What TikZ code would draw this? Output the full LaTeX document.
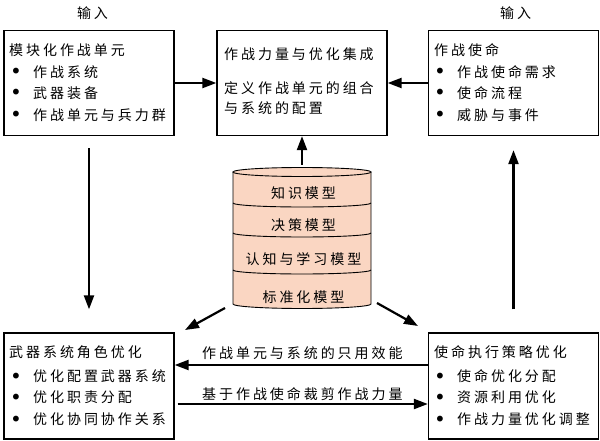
\documentclass[tikz,border=0pt]{standalone}
\usepackage{fontspec}
\usetikzlibrary{arrows.meta}
\newfontfamily\cjk[LetterSpace=21]{Noto Sans CJK SC}
\newfontfamily\dejavu{DejaVu Sans}
\definecolor{peach}{RGB}{250,214,194}
\newcommand{\bul}{\makebox[23pt][l]{\raisebox{-1.5pt}{\dejavu\fontsize{20}{20}\selectfont •}}}
\begin{document}
\begin{tikzpicture}[x=1pt,y=-1pt,
  box/.style={draw=black, line width=1.3pt, inner sep=0pt, minimum width=170pt, minimum height=105pt},
  txt/.style={anchor=base west, inner sep=0pt, font=\cjk\fontsize{14}{14}\selectfont},
  ctxt/.style={anchor=base, inner sep=0pt, xshift=1.5pt, font=\cjk\fontsize{14}{14}\selectfont},
  arr/.style={line width=2.2pt, -{Triangle[length=14pt,width=10pt]}},
  band/.style={draw=black, line width=0.9pt},
]
\useasboundingbox (0,0) rectangle (600,441);

% boxes
\node[box] (tl) at (89,83) {};
\node[box] (tc) at (302,83) {};
\node[box] (tr) at (513.5,83) {};
\node[box, minimum height=106pt] (bl) at (89,386) {};
\node[box, minimum height=106pt] (br) at (513.5,386) {};

% input labels
\node[ctxt] (in1) at (91,18.5) {输\hspace{3pt}入};
\node[ctxt] (in2) at (514,18.5) {输\hspace{3pt}入};

% top-left text
\node[txt] (tl0) at (9,55.5) {模块化作战单元};
\node[txt] (tl1) at (10,77.5) {\bul 作战系统};
\node[txt] (tl2) at (10,98.5) {\bul 武器装备};
\node[txt] (tl3) at (10,120.5) {\bul 作战单元与兵力群};

% top-center text
\node[txt] (tc0) at (224,59.5) {作战力量与优化集成};
\node[txt] (tc1) at (224,93.5) {定义作战单元的组合};
\node[txt] (tc2) at (224,113.5) {与系统的配置};

% top-right text
\node[txt] (tr0) at (434,55.5) {作战使命};
\node[txt] (tr1) at (434,77.5) {\bul 作战使命需求};
\node[txt] (tr2) at (434,98.5) {\bul 使命流程};
\node[txt] (tr3) at (434,120.5) {\bul 威胁与事件};

% bottom-left text
\node[txt] (bl0) at (9,357.5) {武器系统角色优化};
\node[txt] (bl1) at (10,381.5) {\bul 优化配置武器系统};
\node[txt] (bl2) at (10,402.5) {\bul 优化职责分配};
\node[txt] (bl3) at (10,424.5) {\bul 优化协同协作关系};

% bottom-right text
\node[txt] (br0) at (434,357.5) {使命执行策略优化};
\node[txt] (br1) at (434,381.5) {\bul 使命优化分配};
\node[txt] (br2) at (434,402.5) {\bul 资源利用优化};
\node[txt] (br3) at (434,424.5) {\bul 作战力量优化调整};

% cylinder
\fill[peach] (233,172) -- (233,304) arc[start angle=180,end angle=360,x radius=69pt,y radius=4.5pt] -- (371,172) arc[start angle=0,end angle=180,x radius=69pt,y radius=4.5pt] -- cycle;
\draw[band] (233,172) -- (233,304) arc[start angle=180,end angle=360,x radius=69pt,y radius=4.5pt] -- (371,172);
\draw[band] (302,172) ellipse[x radius=69pt,y radius=4.5pt];
\draw[band] (233,203) arc[start angle=180,end angle=360,x radius=69pt,y radius=4pt];
\draw[band] (233,233) arc[start angle=180,end angle=360,x radius=69pt,y radius=4pt];
\draw[band] (233,270) arc[start angle=180,end angle=360,x radius=69pt,y radius=4pt];
\node[ctxt] (m1) at (302,198.5) {知识模型};
\node[ctxt] (m2) at (302,230.5) {决策模型};
\node[ctxt] (m3) at (302,264) {认知与学习模型};
\node[ctxt] (m4) at (302,302.5) {标准化模型};
\coordinate (cyltop) at (302,165);
\coordinate (d1s) at (225,308);
\coordinate (d1e) at (185,330);
\coordinate (d2s) at (377,303);
\coordinate (d2e) at (418,326);

% connectors
\draw[arr] (tl.east) -- (tc.west);
\draw[arr] (tr.west) -- (tc.east);
\draw[arr] (cyltop) -- (tc.south);
\draw[arr] ([yshift=-12pt]tl.south) -- ([yshift=23pt]bl.north);
\draw[arr] ([yshift=23pt]br.north) -- ([yshift=-14pt]tr.south);
\draw[arr] (d1s) -- (d1e);
\draw[arr] (d2s) -- (d2e);
\draw[arr] ([yshift=21pt]br.west) -- ([yshift=21pt]bl.east);
\draw[arr] ([yshift=-18pt,xshift=3pt]bl.east) -- ([yshift=-18pt]br.west);

% arrow labels
\node[txt] (lab1) at (202,358.5) {作战单元与系统的只用效能};
\node[txt] (lab2) at (202,399.5) {基于作战使命裁剪作战力量};
\end{tikzpicture}
\end{document}
